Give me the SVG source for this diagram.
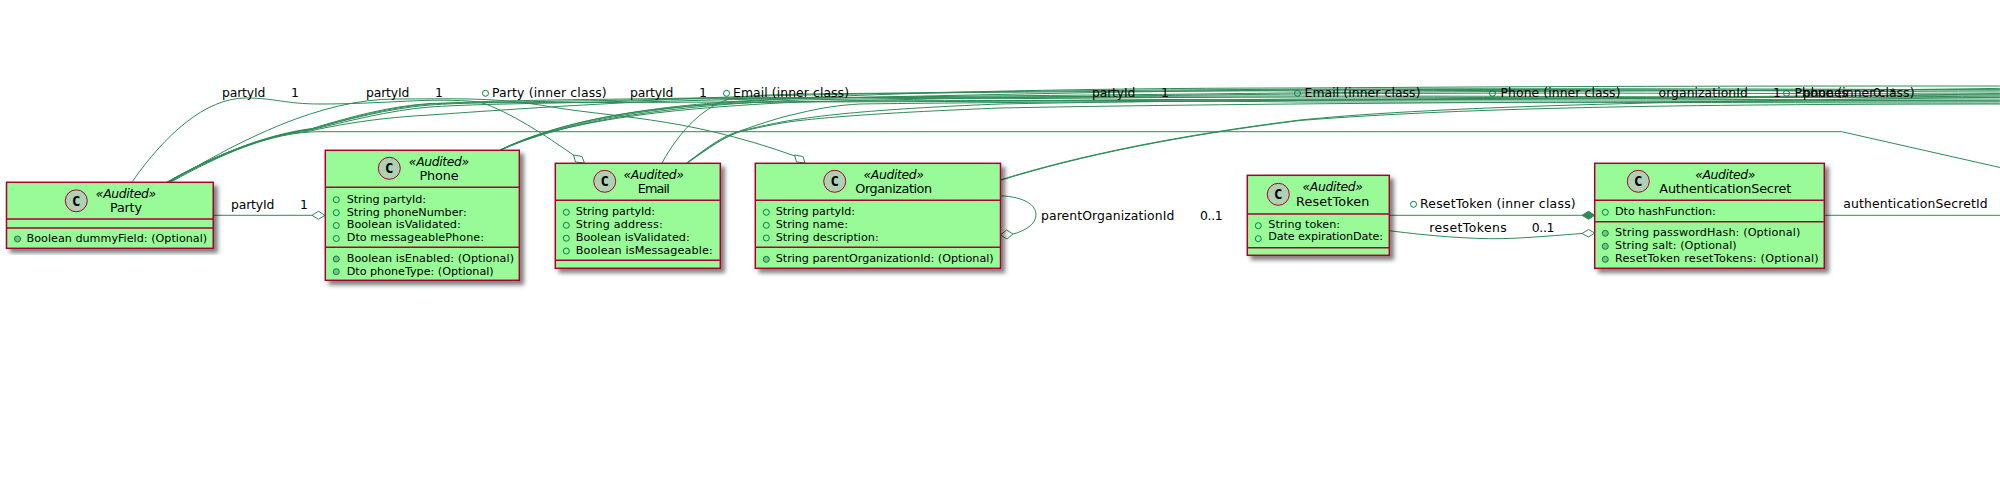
<svg xmlns="http://www.w3.org/2000/svg" width="2000" height="495" viewBox="0 0 2000 495">
<style>
text{font-family:"DejaVu Sans",sans-serif;fill:#000}
.lbl{font-size:12.4px}
.mem{font-size:11.2px}
.st{font-size:12.4px;font-style:italic;text-anchor:middle}
.nm{font-size:12.8px;text-anchor:middle}
.c{font-size:14px;font-weight:bold;text-anchor:middle;font-family:"DejaVu Sans Mono",monospace}
.box{fill:#98FB98;stroke:#A80036;stroke-width:1.5;filter:url(#sh)}
.sep{stroke:#A80036;stroke-width:1.5;fill:none}
.ci{fill:#ADD1B2;stroke:#A80036;stroke-width:1}
.f{fill:none;stroke:#038048;stroke-width:1}
.m{fill:#84BE84;stroke:#038048;stroke-width:1}
.l{fill:none;stroke:#2E8B57;stroke-width:1}
.od{fill:#fff;stroke:#2E8B57;stroke-width:1}
.fd{fill:#2E8B57;stroke:#2E8B57;stroke-width:1}
</style>
<defs><filter id="sh" x="-10%" y="-10%" width="120%" height="120%"><feDropShadow dx="4" dy="4" stdDeviation="2" flood-color="#000" flood-opacity="0.5"/></filter></defs>
<g id="connectors">
<path class="l" d="M213,215.3H312"/>
<path class="od" d="M312,215.3l6.5,-4 6.5,4 -6.5,4z"/>
<path class="l" d="M132,182C165,135 205,98 246,98C275,98 285,104 320,104C390,104 430,97 480,102C510,112 545,135 574,155.5"/>
<path class="od" d="M584.5,163L582,156.5 573.5,155 575.5,162z"/>
<path class="l" d="M170,182C240,140 320,99 396,99C450,99 490,97 540,105C610,118 680,115 795,156"/>
<path class="od" d="M805,163L803,156.5 794.5,155 796.5,162z"/>
<path class="l" d="M167,182C210,158 260,136 310,131C350,122 390,117 430,115C500,110 560,106 640,102C800,97 1000,96 1200,94C1500,90 1800,92 2020,88"/>
<path class="l" d="M167.5,182C210,158 260,136 310,130C345,122 390,110 430,107C490,103 560,104 660,100C800,92 1100,92 1300,90C1600,88 1800,92 2020,92"/>
<path class="l" d="M168,182C210,158 260,136 310,129.5C345,120 390,108 430,105C490,101 560,102 680,99C800,98 1100,96 1300,96C1600,96 1800,98 2020,98"/>
<path class="l" d="M168.5,182C212,158 262,136 312,129C350,118 390,107 430,104C500,100 560,100 700,98C900,96 1100,100 1300,100C1600,100 1800,100 2020,100"/>
<path class="l" d="M169,182C212,157 262,135 312,128.5C350,117 390,106 430,103.5C500,102 580,103 720,102C900,102 1100,101 1300,99C1600,99 1800,95 2020,95"/>
<path class="l" d="M171,182C220,155 270,131.7 320,131.7H1841.7L2020,172"/>
<path class="l" d="M500,150C560,122 640,106 760,100C900,92 1100,88 1300,88C1600,86 1800,86 2020,86"/>
<path class="l" d="M500,150C562,120 650,104 780,102C900,100 1100,100 1300,102C1600,102 1800,103 2020,103"/>
<path class="l" d="M500.5,150C565,120 670,108 800,102C950,98 1100,96 1300,94C1600,92 1800,94 2020,94"/>
<path class="l" d="M501,150C568,118 680,102 820,98C1000,95 1150,90 1300,91C1600,90 1800,90 2020,90"/>
<path class="l" d="M500,150.5C562,122 660,106 800,100C950,97 1150,98 1300,97C1600,97 1800,101 2020,101"/>
<path class="l" d="M662,163C680,130 705,105 733,98C760,94 800,94 900,93C1100,90 1400,87 2020,90"/>
<path class="l" d="M686.7,163C708,147 722,136 740,131C765,122 785,116 800,113C820,108 840,105 860,104C1000,102 1400,100 2020,96"/>
<path class="l" d="M687,163C709,147 723,137 740,131.7C765,126 785,122 800,120.5C840,116 900,112 1000,108C1300,102 1800,101 2020,101"/>
<path class="l" d="M687.5,163C710,147 724,137 741,131C765,125 785,121 800,119C840,113 900,108 1000,104C1300,98 1800,99 2020,93"/>
<path class="l" d="M1000,180C1080,155 1180,135 1300,120C1450,105 1700,101 2020,97"/>
<path class="l" d="M1000,180.5C1080,155.5 1180,135.5 1300,120.5C1470,107 1700,104 2020,104"/>
<path class="l" d="M1000,195.7C1025,197 1036,205 1036,215C1036,224 1025,231 1013,234"/>
<path class="od" d="M1000.5,235l6,-5 6.5,4 -6,5z"/>
<path class="l" d="M1389.3,215.3H1582"/>
<path class="fd" d="M1582,215.3l6.5,-4 6.2,4 -6.2,4z"/>
<path class="l" d="M1389.3,230.7C1430,236 1470,239 1500,238.7C1530,238 1560,235 1582,233.5"/>
<path class="od" d="M1582,233.5l6.5,-4 6.2,3.5 -6.2,4z"/>
<path class="l" d="M1824.3,215.3H2000"/>
</g>
<g id="labels">
<text class="lbl" x="231" y="208.5" textLength="43.3">partyId</text><text class="lbl" x="300" y="208.5">1</text>
<text class="lbl" x="222" y="97" textLength="43.3">partyId</text><text class="lbl" x="291" y="97">1</text>
<text class="lbl" x="366" y="97" textLength="43.3">partyId</text><text class="lbl" x="435" y="97">1</text>
<circle class="f" cx="485.5" cy="93.3" r="3"/><text class="lbl" x="492" y="97" textLength="114.7">Party (inner class)</text>
<text class="lbl" x="630" y="97" textLength="43.3">partyId</text><text class="lbl" x="699" y="97">1</text>
<circle class="f" cx="726.5" cy="93.3" r="3"/><text class="lbl" x="733" y="97" textLength="116">Email (inner class)</text>
<text class="lbl" x="1092" y="97" textLength="43.3">partyId</text><text class="lbl" x="1161" y="97">1</text>
<circle class="f" cx="1297.5" cy="93.3" r="3"/><text class="lbl" x="1304.5" y="97" textLength="116">Email (inner class)</text>
<circle class="f" cx="1492.5" cy="93.3" r="3"/><text class="lbl" x="1500.5" y="97" textLength="120">Phone (inner class)</text>
<text class="lbl" x="1658.5" y="97" textLength="89.3">organizationId</text><text class="lbl" x="1773" y="97">1</text>
<circle class="f" cx="1786.5" cy="93.3" r="3"/><text class="lbl" x="1794.5" y="97" textLength="120">Phone (inner class)</text>
<text class="lbl" x="1803" y="97" textLength="45">phones</text><text class="lbl" x="1873" y="97" textLength="23">0..*</text>
<text class="lbl" x="1041" y="219.5" textLength="133.3">parentOrganizationId</text><text class="lbl" x="1200" y="219.5" textLength="22.7">0..1</text>
<circle class="f" cx="1413.5" cy="204.3" r="3"/><text class="lbl" x="1420" y="208" textLength="155.7">ResetToken (inner class)</text>
<text class="lbl" x="1429.3" y="231.5" textLength="77.4">resetTokens</text><text class="lbl" x="1531.7" y="231.5" textLength="22.7">0..1</text>
<text class="lbl" x="1843.3" y="208" textLength="144.3">authenticationSecretId</text>
</g>
<g id="Party">
<rect class="box" x="6.5" y="182.3" width="206.7" height="66"/>
<path class="sep" d="M6.5,219H213.2M6.5,228H213.2"/>
<circle class="ci" cx="76.3" cy="200.8" r="11"/><text class="c" x="76.3" y="205.8">C</text>
<text class="st" x="126" y="198" textLength="60.3">«Audited»</text><text class="nm" x="126" y="212" textLength="32">Party</text>
<circle class="m" cx="17.5" cy="239" r="3"/><text class="mem" x="26.5" y="242" textLength="180.7">Boolean dummyField: (Optional)</text>
</g>
<g id="Phone">
<rect class="box" x="325.3" y="150.3" width="194" height="130"/>
<path class="sep" d="M325.3,187.3H519.3M325.3,247.3H519.3"/>
<circle class="ci" cx="389.3" cy="168.3" r="11"/><text class="c" x="389.3" y="173.3">C</text>
<text class="st" x="439" y="165.6" textLength="60.3">«Audited»</text><text class="nm" x="439" y="180" textLength="39">Phone</text>
<circle class="f" cx="336.3" cy="199.7" r="3"/><text class="mem" x="346.7" y="202.5" textLength="79.3">String partyId:</text>
<circle class="f" cx="336.3" cy="212.7" r="3"/><text class="mem" x="346.7" y="215.5" textLength="120">String phoneNumber:</text>
<circle class="f" cx="336.3" cy="225.5" r="3"/><text class="mem" x="346.7" y="228.3" textLength="114">Boolean isValidated:</text>
<circle class="f" cx="336.3" cy="238.5" r="3"/><text class="mem" x="346.7" y="241.3" textLength="137.3">Dto messageablePhone:</text>
<circle class="m" cx="336.3" cy="259" r="3"/><text class="mem" x="346.7" y="261.7" textLength="167.3">Boolean isEnabled: (Optional)</text>
<circle class="m" cx="336.3" cy="271.7" r="3"/><text class="mem" x="346.7" y="274.7" textLength="147">Dto phoneType: (Optional)</text>
</g>
<g id="Email">
<rect class="box" x="555.3" y="163.3" width="165" height="105"/>
<path class="sep" d="M555.3,200.3H720.3M555.3,260.3H720.3"/>
<circle class="ci" cx="604.7" cy="181.3" r="11"/><text class="c" x="604.7" y="186.3">C</text>
<text class="st" x="653.7" y="178.7" textLength="60.3">«Audited»</text><text class="nm" x="653.7" y="192.7" textLength="32">Email</text>
<circle class="f" cx="566.3" cy="212.3" r="3"/><text class="mem" x="575.7" y="215.3" textLength="79.3">String partyId:</text>
<circle class="f" cx="566.3" cy="225.3" r="3"/><text class="mem" x="575.7" y="228.3" textLength="87">String address:</text>
<circle class="f" cx="566.3" cy="238.2" r="3"/><text class="mem" x="575.7" y="241" textLength="114">Boolean isValidated:</text>
<circle class="f" cx="566.3" cy="251" r="3"/><text class="mem" x="575.7" y="254" textLength="137">Boolean isMessageable:</text>
</g>
<g id="Organization">
<rect class="box" x="755.3" y="163.3" width="245.2" height="105"/>
<path class="sep" d="M755.3,200.3H1000.5M755.3,247.3H1000.5"/>
<circle class="ci" cx="834.7" cy="181.3" r="11"/><text class="c" x="834.7" y="186.3">C</text>
<text class="st" x="893.7" y="178.7" textLength="60.3">«Audited»</text><text class="nm" x="893.7" y="192.7" textLength="76.7">Organization</text>
<circle class="f" cx="766.3" cy="212.3" r="3"/><text class="mem" x="775.7" y="215.3" textLength="79.3">String partyId:</text>
<circle class="f" cx="766.3" cy="225.3" r="3"/><text class="mem" x="775.7" y="228.3" textLength="72.3">String name:</text>
<circle class="f" cx="766.3" cy="238" r="3"/><text class="mem" x="775.7" y="241" textLength="103">String description:</text>
<circle class="m" cx="766.3" cy="259.3" r="3"/><text class="mem" x="775.7" y="262" textLength="218">String parentOrganizationId: (Optional)</text>
</g>
<g id="ResetToken">
<rect class="box" x="1247.3" y="175.3" width="142" height="80"/>
<path class="sep" d="M1247.3,214H1389.3M1247.3,247.7H1389.3"/>
<circle class="ci" cx="1278.3" cy="194.3" r="11"/><text class="c" x="1278.3" y="199.3">C</text>
<text class="st" x="1332.7" y="191.3" textLength="60.3">«Audited»</text><text class="nm" x="1332.7" y="206" textLength="73.3">ResetToken</text>
<circle class="f" cx="1258.3" cy="225.7" r="3"/><text class="mem" x="1268.3" y="228" textLength="71.7">String token:</text>
<circle class="f" cx="1258.3" cy="238.7" r="3"/><text class="mem" x="1268.3" y="240" textLength="114.7">Date expirationDate:</text>
</g>
<g id="AuthenticationSecret">
<rect class="box" x="1594.7" y="163.3" width="229.6" height="105"/>
<path class="sep" d="M1594.7,200.3H1824.3M1594.7,221.7H1824.3"/>
<circle class="ci" cx="1638.3" cy="181.3" r="11"/><text class="c" x="1638.3" y="186.3">C</text>
<text class="st" x="1725.3" y="178.7" textLength="60.3">«Audited»</text><text class="nm" x="1725.3" y="192.7" textLength="132">AuthenticationSecret</text>
<circle class="f" cx="1605.3" cy="212.3" r="3"/><text class="mem" x="1615" y="215.3" textLength="100.7">Dto hashFunction:</text>
<circle class="m" cx="1605.3" cy="233.3" r="3"/><text class="mem" x="1615" y="236" textLength="185.3">String passwordHash: (Optional)</text>
<circle class="m" cx="1605.3" cy="246.3" r="3"/><text class="mem" x="1615" y="249" textLength="121.7">String salt: (Optional)</text>
<circle class="m" cx="1605.3" cy="259.3" r="3"/><text class="mem" x="1615" y="262" textLength="203.7">ResetToken resetTokens: (Optional)</text>
</g>
</svg>
